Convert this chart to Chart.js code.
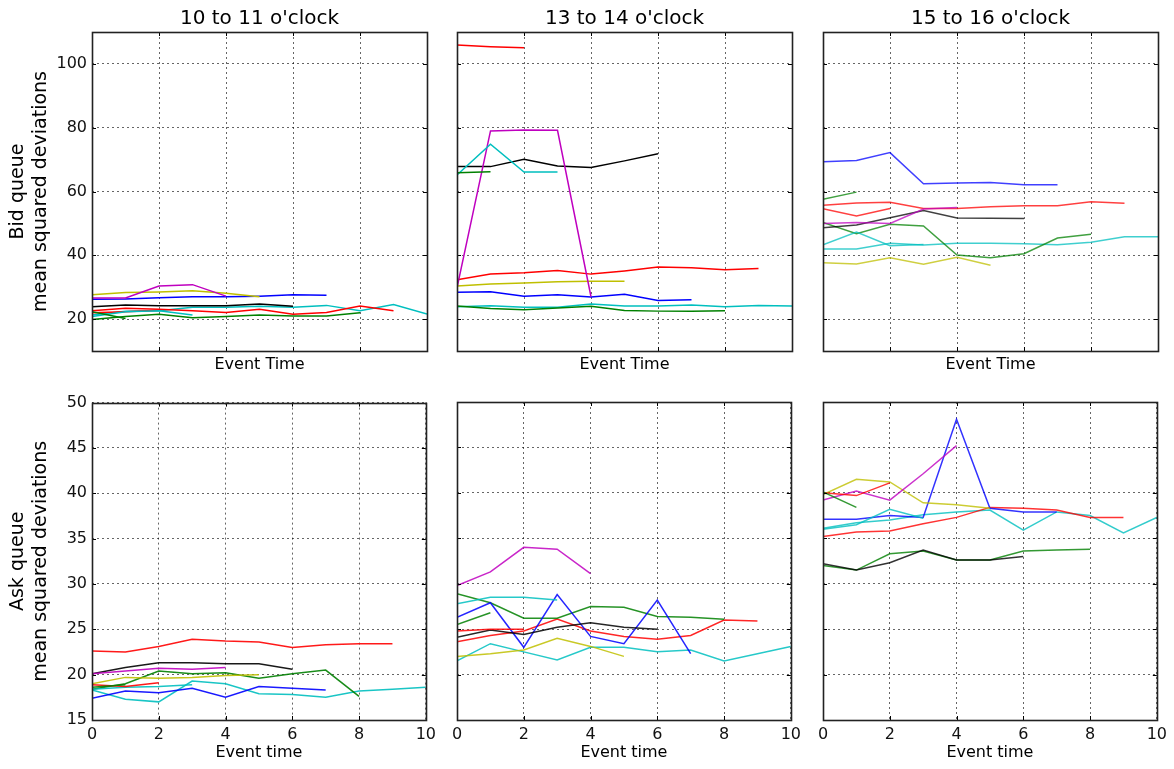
<!DOCTYPE html>
<html>
<head>
<meta charset="utf-8">
<script src="https://cdn.jsdelivr.net/npm/chart.js@4/dist/chart.umd.min.js"></script>
<style>
  html, body { margin: 0; padding: 0; background: #fff; }
  body { width: 1174px; height: 769px; position: relative; overflow: hidden; }
  .panel { position: absolute; }
</style>
</head>
<body>
<div id="panels"></div>
<script>
// Axis ticks and labels
const xTicks = [0, 2, 4, 6, 8, 10];
const yTicksBid = [20, 40, 60, 80, 100];
const yTicksAsk = [15, 20, 25, 30, 35, 40, 45, 50];
const panelTitles = ["10 to 11 o'clock", "13 to 14 o'clock", "15 to 16 o'clock"];

// Series per panel: [colour key, values at event time 0, 1, 2, ...]
const bid10 = [
    ['g', [22.3, 20.2]],
    ['c', [20.8, 22.3, 22.6, 21.3]],
    ['r', [22.0, 22.3, 22.8]],
    ['k', [23.9, 24.4, 24.2, 24.2, 24.2, 24.7, 24.0]],
    ['m', [26.6, 26.6, 30.4, 30.8, 27.2]],
    ['y', [27.6, 28.3, 28.5, 28.9, 28.1, 27.0]],
    ['b', [26.2, 26.3, 26.7, 27.0, 27.0, 27.2, 27.6, 27.5]],
    ['g', [19.9, 20.8, 21.5, 20.4, 20.8, 21.3, 21.0, 21.0, 22.0]],
    ['r', [22.6, 23.4, 23.1, 22.6, 22.1, 23.1, 21.5, 22.1, 24.1, 22.6]],
    ['c', [21.3, 22.5, 22.6, 23.7, 23.7, 24.0, 23.7, 24.3, 22.6, 24.6, 21.6]]
];
const bid13 = [
    ['r', [105.9, 105.4, 105.1]],
    ['g', [65.9, 66.2]],
    ['c', [65.2, 74.8, 66.1, 66.1]],
    ['m', [29.8, 79.0, 79.3, 79.2, 27.0]],
    ['y', [30.4, 31.0, 31.3, 31.7, 31.9, 31.9]],
    ['k', [67.8, 67.8, 70.1, 68.0, 67.5, 69.6, 71.8]],
    ['b', [28.4, 28.6, 27.2, 27.6, 26.9, 27.8, 25.8, 26.1]],
    ['g', [24.1, 23.3, 22.9, 23.5, 24.0, 22.7, 22.5, 22.5, 22.6]],
    ['r', [32.3, 34.1, 34.5, 35.2, 34.1, 35.1, 36.3, 36.1, 35.5, 35.9]],
    ['c', [23.9, 24.2, 23.7, 23.7, 24.7, 24.1, 24.1, 24.4, 23.9, 24.3, 24.1]]
];
const bid15 = [
    ['g', [57.6, 59.8]],
    ['r', [54.6, 52.3, 54.7]],
    ['c', [43.3, 47.3, 43.0, 43.4]],
    ['m', [50.0, 50.3, 50.0, 54.5, 55.0]],
    ['y', [37.7, 37.3, 39.2, 37.2, 39.4, 36.9]],
    ['k', [48.6, 49.5, 51.8, 54.0, 51.7, 51.6, 51.5]],
    ['b', [69.3, 69.7, 72.2, 62.4, 62.7, 62.8, 62.1, 62.1]],
    ['g', [50.3, 46.8, 49.7, 49.2, 40.1, 39.2, 40.5, 45.4, 46.6]],
    ['r', [55.7, 56.4, 56.6, 54.7, 54.7, 55.2, 55.5, 55.5, 56.8, 56.3]],
    ['c', [42.0, 42.0, 43.8, 43.2, 43.8, 43.8, 43.6, 43.3, 44.1, 45.8, 45.8]]
];
const ask10 = [
    ['g', [18.6, 18.9]],
    ['r', [18.9, 18.7, 19.1]],
    ['c', [18.4, 18.6, 18.7, 18.9]],
    ['m', [20.1, 20.4, 20.7, 20.6, 20.8]],
    ['y', [19.0, 19.7, 19.6, 19.7, 19.9, 20.0]],
    ['k', [20.1, 20.8, 21.3, 21.3, 21.2, 21.2, 20.6]],
    ['b', [17.4, 18.2, 18.0, 18.5, 17.5, 18.7, 18.5, 18.3]],
    ['g', [18.4, 19.0, 20.4, 20.1, 20.2, 19.6, 20.1, 20.5, 17.6]],
    ['r', [22.6, 22.5, 23.1, 23.9, 23.7, 23.6, 23.0, 23.3, 23.4, 23.4]],
    ['c', [18.3, 17.3, 17.0, 19.3, 19.0, 17.9, 17.8, 17.5, 18.2, 18.4, 18.6]]
];
const ask13 = [
    ['g', [25.5, 26.8]],
    ['r', [24.8, 25.0, 25.0]],
    ['c', [27.8, 28.5, 28.5, 28.2]],
    ['m', [29.8, 31.3, 34.0, 33.8, 31.1]],
    ['y', [22.0, 22.3, 22.7, 24.0, 23.1, 22.0]],
    ['k', [24.1, 24.9, 24.4, 25.2, 25.7, 25.2, 25.0]],
    ['b', [26.3, 27.9, 23.0, 28.8, 24.2, 23.4, 28.2, 22.3]],
    ['g', [28.9, 27.9, 26.2, 26.2, 27.5, 27.4, 26.4, 26.3, 26.1]],
    ['r', [23.6, 24.3, 24.8, 26.1, 24.8, 24.2, 23.9, 24.3, 26.0, 25.9]],
    ['c', [21.5, 23.4, 22.5, 21.6, 23.0, 23.0, 22.5, 22.7, 21.5, 22.3, 23.1]]
];
const ask15 = [
    ['g', [40.1, 38.4]],
    ['r', [40.0, 39.7, 41.1]],
    ['c', [36.0, 36.5, 38.2, 37.2]],
    ['m', [39.2, 40.2, 39.2, 42.1, 45.2]],
    ['y', [39.8, 41.5, 41.2, 38.9, 38.7, 38.3]],
    ['k', [32.2, 31.5, 32.3, 33.7, 32.6, 32.6, 33.0]],
    ['b', [37.1, 37.1, 37.5, 37.3, 48.1, 38.3, 37.9, 37.9]],
    ['g', [32.0, 31.5, 33.3, 33.6, 32.6, 32.6, 33.6, 33.7, 33.8]],
    ['r', [35.2, 35.7, 35.8, 36.6, 37.3, 38.4, 38.3, 38.1, 37.3, 37.3]],
    ['c', [36.1, 36.7, 37.0, 37.6, 37.9, 38.1, 35.9, 37.9, 37.5, 35.6, 37.3]]
];

const colours = {
    b: [0, 0, 255], g: [0, 128, 0], r: [255, 0, 0], c: [0, 191, 191],
    m: [191, 0, 191], y: [191, 191, 0], k: [0, 0, 0]
};

Chart.defaults.font.family = "'DejaVu Sans', sans-serif";
Chart.defaults.color = '#111';
Chart.defaults.animation = false;

// black frame plus inward tick marks, matplotlib style
const framePlugin = {
    id: 'frame',
    afterDraw(chart) {
        const ctx = chart.ctx;
        const a = chart.chartArea;
        const xs = chart.scales.x, ys = chart.scales.y;
        ctx.save();
        ctx.strokeStyle = '#000';
        ctx.lineWidth = 1;
        ctx.beginPath();
        xs.ticks.forEach(t => {
            const px = Math.round(xs.getPixelForValue(t.value)) + 0.5;
            ctx.moveTo(px, a.bottom); ctx.lineTo(px, a.bottom - 4);
            ctx.moveTo(px, a.top); ctx.lineTo(px, a.top + 4);
        });
        ys.ticks.forEach(t => {
            const py = Math.round(ys.getPixelForValue(t.value)) + 0.5;
            ctx.moveTo(a.left, py); ctx.lineTo(a.left + 4, py);
            ctx.moveTo(a.right, py); ctx.lineTo(a.right - 4, py);
        });
        ctx.stroke();
        ctx.strokeStyle = '#222';
        ctx.lineWidth = 1.6;
        ctx.strokeRect(Math.round(a.left) + 0.5, Math.round(a.top) + 0.5,
            Math.round(a.right - a.left), Math.round(a.bottom - a.top));
        ctx.restore();
    }
};

// column heading centred over the plot area
const colTitlePlugin = {
    id: 'colTitle',
    afterDraw(chart, args, opts) {
        if (!opts.text) return;
        const ctx = chart.ctx;
        const a = chart.chartArea;
        ctx.save();
        ctx.font = "20px 'DejaVu Sans', sans-serif";
        ctx.fillStyle = '#000';
        ctx.textAlign = 'center';
        ctx.textBaseline = 'middle';
        ctx.fillText(opts.text, (a.left + a.right) / 2, 19);
        ctx.restore();
    }
};

const plotLefts = [92, 457, 823];
const plotWidth = 335;

function makePanel(series, row, col, alpha) {
    const isTop = row === 0;
    const yAxisWidth = col === 0 ? 92 : 12;
    const rightPad = 14;
    const left = plotLefts[col] - yAxisWidth;
    const top = isTop ? 0 : 388;
    const height = isTop ? 378 : 381;
    const div = document.createElement('div');
    div.className = 'panel';
    div.style.left = left + 'px';
    div.style.top = top + 'px';
    div.style.width = (yAxisWidth + plotWidth + rightPad) + 'px';
    div.style.height = height + 'px';
    const canvas = document.createElement('canvas');
    div.appendChild(canvas);
    document.getElementById('panels').appendChild(div);

    const datasets = series.map(([key, vals]) => {
        const c = colours[key];
        return {
            data: vals.map((v, i) => ({ x: i, y: v })),
            borderColor: `rgba(${c[0]},${c[1]},${c[2]},${alpha})`,
            borderWidth: 1.5,
            pointRadius: 0,
            tension: 0,
            fill: false
        };
    });

    const yTicks = isTop ? yTicksBid : yTicksAsk;

    new Chart(canvas.getContext('2d'), {
        type: 'line',
        data: { datasets: datasets },
        options: {
            responsive: true,
            maintainAspectRatio: false,
            layout: { padding: { left: 0, right: rightPad, top: isTop ? 32 : 14, bottom: 0 } },
            plugins: {
                legend: { display: false },
                tooltip: { enabled: false },
                colTitle: { text: isTop ? panelTitles[col] : '' }
            },
            scales: {
                x: {
                    type: 'linear',
                    min: 0,
                    max: 10,
                    afterBuildTicks: s => { s.ticks = xTicks.map(v => ({ value: v })); },
                    afterFit: s => { s.height = isTop ? 27 : 49; },
                    grid: { color: 'rgba(0,0,0,0.6)', lineWidth: 1, drawTicks: false },
                    border: { display: false, dash: [2, 3] },
                    ticks: { display: !isTop, padding: 5, maxRotation: 0, font: { size: 16 } },
                    title: {
                        display: true,
                        text: isTop ? 'Event Time' : 'Event time',
                        font: { size: 16 },
                        color: '#000',
                        padding: { top: 0, bottom: isTop ? 3.5 : 7 }
                    }
                },
                y: {
                    type: 'linear',
                    min: isTop ? 10 : 15,
                    max: isTop ? 110 : 50,
                    afterBuildTicks: s => { s.ticks = yTicks.map(v => ({ value: v })); },
                    afterFit: s => { s.width = yAxisWidth; },
                    grid: { color: 'rgba(0,0,0,0.6)', lineWidth: 1, drawTicks: false },
                    border: { display: false, dash: [2, 3] },
                    ticks: { display: col === 0, padding: 5, font: { size: 16 } },
                    title: {
                        display: col === 0,
                        text: isTop ? ['Bid queue', 'mean squared deviations'] : ['Ask queue', 'mean squared deviations'],
                        font: { size: 19 },
                        color: '#000',
                        padding: { top: 6.5, bottom: 0 }
                    }
                }
            }
        },
        plugins: [framePlugin, colTitlePlugin]
    });
}

makePanel(bid10, 0, 0, 1);
makePanel(bid13, 0, 1, 1);
makePanel(bid15, 0, 2, 0.75);
makePanel(ask10, 1, 0, 0.9);
makePanel(ask13, 1, 1, 0.85);
makePanel(ask15, 1, 2, 0.8);
</script>
</body>
</html>
